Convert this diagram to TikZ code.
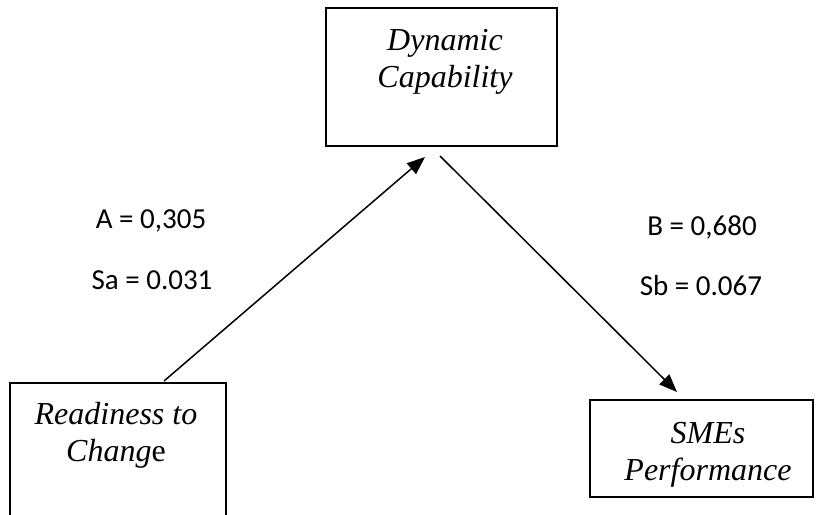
\documentclass[tikz,border=0pt]{standalone}
\usepackage{fontspec}
\setmainfont{Liberation Serif}
\newfontfamily\labelfont{Carlito}
\usetikzlibrary{arrows.meta}
\tikzset{
    varbox/.style={draw,line width=1.9pt,inner sep=0pt},
    vartext/.style={anchor=center,align=center,font=\fontsize{32}{37}\selectfont\itshape},
    coef/.style={anchor=center,font=\labelfont\fontsize{29}{35}\selectfont},
    path/.style={line width=1.5pt,-{Triangle[length=18pt,width=14pt]}}
}
\begin{document}
\begin{tikzpicture}[x=1pt,y=-1pt]
        \useasboundingbox (0,0) rectangle (818,514);
        % variables
        \node[varbox,minimum width=231pt,minimum height=138pt] (dc) at (441.5,77) {};
        \node[varbox,minimum width=216pt,minimum height=160pt] (rc) at (118,463) {};
        \node[varbox,minimum width=223pt,minimum height=97pt] (sp) at (701.5,448.5) {};
        \node[vartext] (dctext) at (445,62) {Dynamic\\Capability};
        \node[vartext] (rctext) at (116,435) {Readiness to\\Chang\upshape e};
        \node[vartext] (sptext) at (708,455) {SMEs\\Performance};
        % paths
        \coordinate (a0) at (164,381);
        \coordinate (a1) at (425,157);
        \coordinate (b0) at (440,156);
        \coordinate (b1) at (677,392);
        \draw[path] (a0) -- (a1);
        \draw[path] (b0) -- (b1);
        % coefficients
        \node[coef] (A) at (151,221) {A = 0,305};
        \node[coef] (Sa) at (152,280) {Sa = 0.031};
        \node[coef] (B) at (702,227) {B = 0,680};
        \node[coef] (Sb) at (701,286) {Sb = 0.067};
\end{tikzpicture}
\end{document}
